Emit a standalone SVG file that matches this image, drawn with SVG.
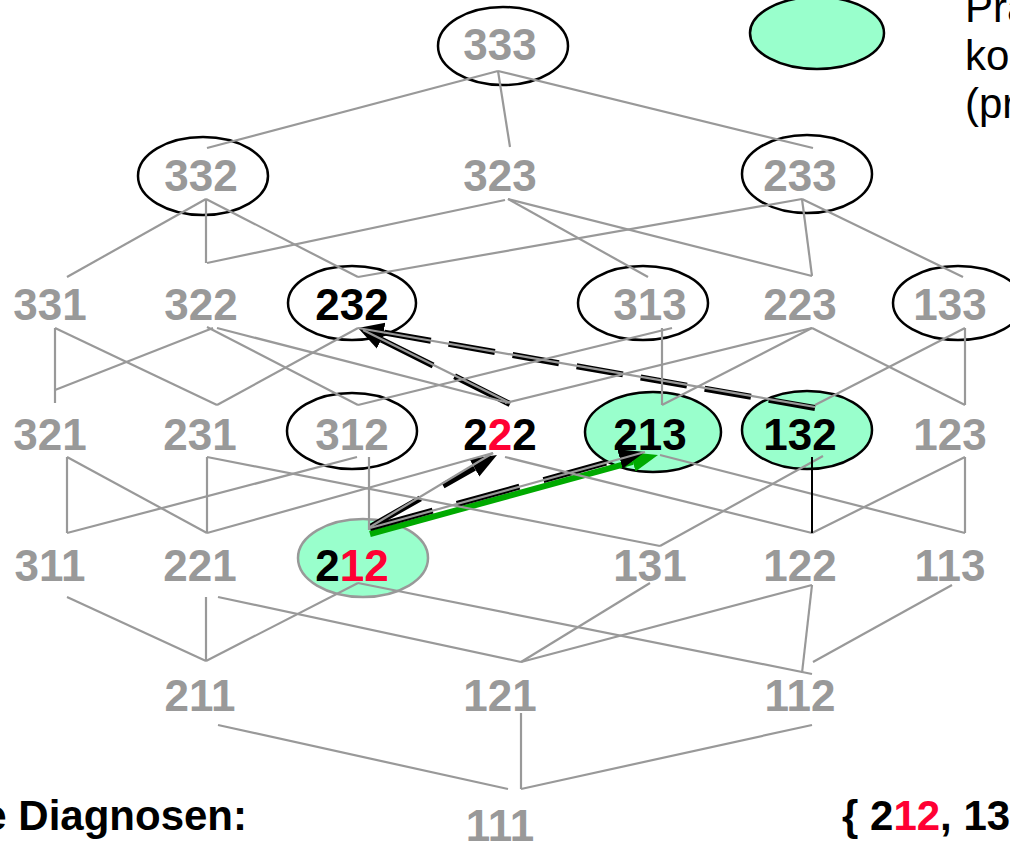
<svg xmlns="http://www.w3.org/2000/svg" width="1010" height="843" viewBox="0 0 1010 843">
<style>
.lbl{font-family:"Liberation Sans",Arial,sans-serif;font-weight:bold;font-size:44px;text-anchor:middle;fill:#999999}
.blk{fill:#000000}
.red{fill:#FF0033}
.ring{fill:none;stroke:#000000;stroke-width:2.5}
.hit{fill:#99FFCC;stroke:#000000;stroke-width:2.5}
.edge line{stroke:#999999;stroke-width:2.2;fill:none}
.dash{stroke:#000000;stroke-width:6;fill:none}
.txt{font-family:"Liberation Sans",Arial,sans-serif;font-size:42px;fill:#000000}
</style>
<defs>
<marker id="ah" markerUnits="userSpaceOnUse" markerWidth="30" markerHeight="24" viewBox="0 -12 30 24" refX="0" refY="0" orient="auto">
<path d="M0,-10 L26,0 L0,10 z" fill="#000000"/>
</marker>
<marker id="ahg" markerUnits="userSpaceOnUse" markerWidth="30" markerHeight="24" viewBox="0 -12 30 24" refX="0" refY="0" orient="auto">
<path d="M0,-10 L26,0 L0,10 z" fill="#00AA00"/>
</marker>
</defs>
<rect width="1010" height="843" fill="#ffffff"/>

<g id="legend">
<ellipse cx="817" cy="33" rx="67" ry="36" class="hit"/>
<text class="txt" x="965" y="22">Pra</text>
<text class="txt" x="965" y="70">ko</text>
<text class="txt" x="965" y="118">(pr</text>
</g>

<g id="n333"><ellipse cx="503" cy="46" rx="65" ry="39" class="ring"/><text class="lbl" x="500" y="60">333</text></g>
<g id="n332"><ellipse cx="203" cy="176" rx="65" ry="39" class="ring"/><text class="lbl" x="201" y="191">332</text></g>
<g id="n323"><text class="lbl" x="500" y="191">323</text></g>
<g id="n233"><ellipse cx="807" cy="174" rx="65" ry="39" class="ring"/><text class="lbl" x="800" y="191">233</text></g>

<g id="n331"><text class="lbl" x="50" y="320">331</text></g>
<g id="n322"><text class="lbl" x="201" y="320">322</text></g>
<g id="n232"><ellipse cx="352" cy="303" rx="64" ry="37" class="ring"/><text class="lbl blk" x="352" y="320">232</text></g>
<g id="n313"><ellipse cx="643" cy="303" rx="65" ry="37" class="ring"/><text class="lbl" x="650" y="320">313</text></g>
<g id="n223"><text class="lbl" x="800" y="320">223</text></g>
<g id="n133"><ellipse cx="958" cy="303" rx="65" ry="37" class="ring"/><text class="lbl" x="950" y="320">133</text></g>

<g id="n321"><text class="lbl" x="50" y="450">321</text></g>
<g id="n231"><text class="lbl" x="200" y="450">231</text></g>
<g id="n312"><ellipse cx="352" cy="431" rx="65" ry="38" class="ring"/><text class="lbl" x="352" y="450">312</text></g>
<g id="n222"><text class="lbl blk" x="500" y="450">2<tspan class="red">2</tspan>2</text></g>
<g id="n213"><ellipse cx="653" cy="432" rx="68" ry="40" class="hit"/><text class="lbl blk" x="650" y="450">213</text></g>
<g id="n132"><ellipse cx="807" cy="430" rx="65" ry="39" class="hit"/><text class="lbl blk" x="800" y="450">132</text></g>
<g id="n123"><text class="lbl" x="950" y="450">123</text></g>

<g id="n311"><text class="lbl" x="50" y="581">311</text></g>
<g id="n221"><text class="lbl" x="200" y="581">221</text></g>
<g id="n212"><ellipse cx="363" cy="558" rx="65" ry="39" fill="#99FFCC" stroke="#999999" stroke-width="2.5"/><text class="lbl blk" x="352" y="581">2<tspan class="red">12</tspan></text></g>
<g id="n131"><text class="lbl" x="650" y="581">131</text></g>
<g id="n122"><text class="lbl" x="800" y="581">122</text></g>
<g id="n113"><text class="lbl" x="950" y="581">113</text></g>

<g id="n211"><text class="lbl" x="200" y="711">211</text></g>
<g id="n121"><text class="lbl" x="500" y="711">121</text></g>
<g id="n112"><text class="lbl" x="800" y="711">112</text></g>

<g id="n111"><text class="lbl" x="500" y="841">111</text></g>

<g id="caption">
<text class="txt" x="247" y="830" text-anchor="end" font-weight="bold">e Diagnosen:</text>
<text class="txt" x="842" y="830" font-weight="bold">{ 2<tspan class="red">12</tspan>, 13</text>
</g>

<g id="connectors">
<line x1="370" y1="534" x2="632.9" y2="461.9" stroke="#00AA00" stroke-width="6" marker-end="url(#ahg)"/>
<line class="dash" x1="510" y1="404" x2="381.3" y2="339.6" stroke-dasharray="62 24" marker-end="url(#ah)"/>
<line class="dash" x1="815" y1="408" x2="383.6" y2="332.5" stroke-dasharray="47 18" marker-end="url(#ah)"/>
<line class="dash" x1="370" y1="527" x2="474.4" y2="467.8" stroke-dasharray="58 26" marker-end="url(#ah)"/>
<line class="dash" x1="370" y1="528" x2="619.9" y2="458.9" stroke-dasharray="65 25" marker-end="url(#ah)"/>
<g class="edge">
<line x1="498" y1="71" x2="207" y2="148"/>
<line x1="498" y1="71" x2="510" y2="147"/>
<line x1="498" y1="71" x2="813" y2="148"/>
<line x1="206" y1="199" x2="67" y2="277"/>
<line x1="206" y1="199" x2="206" y2="263"/>
<line x1="206" y1="199" x2="358" y2="277"/>
<line x1="505" y1="200" x2="207" y2="263"/>
<line x1="508" y1="199" x2="648" y2="277"/>
<line x1="508" y1="199" x2="812" y2="276"/>
<line x1="802" y1="199" x2="358" y2="277"/>
<line x1="802" y1="199" x2="812" y2="276"/>
<line x1="802" y1="199" x2="963" y2="277"/>
<line x1="55" y1="328" x2="55" y2="403"/>
<line x1="55" y1="328" x2="217" y2="405"/>
<line x1="213" y1="328" x2="55" y2="390"/>
<line x1="207" y1="327" x2="358" y2="405"/>
<line x1="217" y1="328" x2="505" y2="402"/>
<line x1="358" y1="328" x2="217" y2="405"/>
<line x1="363" y1="330" x2="510" y2="403"/>
<line x1="358" y1="328" x2="815" y2="407"/>
<line x1="672" y1="328" x2="358" y2="405"/>
<line x1="662" y1="328" x2="662" y2="405"/>
<line x1="812" y1="328" x2="505" y2="403"/>
<line x1="812" y1="328" x2="662" y2="405"/>
<line x1="812" y1="328" x2="965" y2="405"/>
<line x1="965" y1="328" x2="965" y2="405"/>
<line x1="965" y1="328" x2="815" y2="405"/>
<line x1="67" y1="457" x2="67" y2="533"/>
<line x1="67" y1="457" x2="207" y2="533"/>
<line x1="357" y1="457" x2="67" y2="533"/>
<line x1="207" y1="457" x2="207" y2="533"/>
<line x1="207" y1="457" x2="660" y2="546"/>
<line x1="369" y1="457" x2="369" y2="530"/>
<line x1="493" y1="453" x2="207" y2="533"/>
<line x1="493" y1="453" x2="370" y2="527"/>
<line x1="505" y1="457" x2="812" y2="533"/>
<line x1="645" y1="452" x2="370" y2="528"/>
<line x1="660" y1="455" x2="965" y2="533"/>
<line x1="823" y1="456" x2="660" y2="546"/>
<line x1="965" y1="457" x2="965" y2="533"/>
<line x1="965" y1="457" x2="812" y2="533"/>
<line x1="67" y1="597" x2="206" y2="661"/>
<line x1="206" y1="597" x2="206" y2="661"/>
<line x1="218" y1="597" x2="521" y2="662"/>
<line x1="358" y1="583" x2="206" y2="661"/>
<line x1="358" y1="583" x2="812" y2="674"/>
<line x1="650" y1="583" x2="521" y2="662"/>
<line x1="812" y1="585" x2="521" y2="662"/>
<line x1="812" y1="585" x2="802" y2="673"/>
<line x1="952" y1="585" x2="813" y2="662"/>
<line x1="218" y1="725" x2="508" y2="789"/>
<line x1="521" y1="713" x2="521" y2="789"/>
<line x1="812" y1="725" x2="521" y2="789"/>
</g>
<line x1="812" y1="457" x2="812" y2="533" stroke="#000000" stroke-width="2"/>
</g>
</svg>
